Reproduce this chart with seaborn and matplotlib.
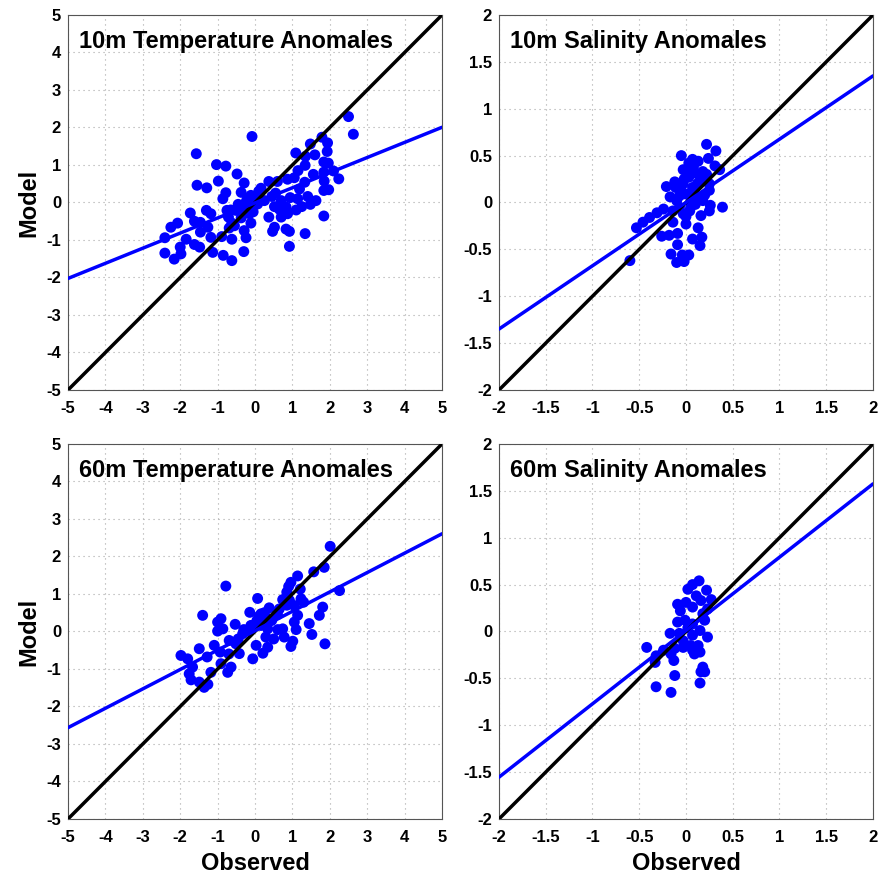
import numpy as np
import pandas as pd
import matplotlib
matplotlib.use("Agg")
import matplotlib.pyplot as plt
import seaborn as sns

# ---- 10 m temperature anomalies (observed, model) ----
t10_obs = [2.50, 2.63, -0.08, -1.57, 1.79, 1.94, 1.48, 1.93, 1.09, 1.60, 1.35, 1.84, 1.96,
           -1.03, -0.78, 1.34, 1.15, -0.48, 1.56, 1.84, 2.10, 2.24, 1.85, 0.87, 1.05, -0.98,
           -0.29, 0.37, 0.60, 1.33, -1.55, -1.29, 0.16, 1.19, 1.84, 1.97, -0.78, -0.37, -0.86,
           -0.11, 0.03, 0.45, 0.94, 1.14, 1.41, 1.63, 0.70, -0.23, -0.06, 0.07, 1.25, 1.48,
           0.52, 0.65, 0.83, 0.87, 0.70, -0.11, -1.30, -1.18, -1.73, -0.75, -0.51, -0.71,
           -0.37, -1.62, -1.46, -0.62, -0.11, 0.37, -2.07, -2.25, -1.26, -0.69, -0.29, 0.52,
           0.47, 0.83, 0.92, 1.84, -1.46, -1.18, -0.89, -0.24, -0.62, -2.41, -1.84, 1.34,
           -1.62, -1.48, -2.00, 0.92, -1.98, -2.41, -2.16, -1.13, -0.85, -0.62, -0.30,
           -0.45, -0.55, 0.25, 0.10, -0.15, -0.05, 0.00, -0.30, 0.55, 1.10, -0.65, -0.20]
t10_mod = [2.29, 1.82, 1.76, 1.30, 1.74, 1.59, 1.56, 1.36, 1.32, 1.27, 1.23, 1.08, 1.05,
           1.01, 0.97, 0.99, 0.85, 0.76, 0.75, 0.81, 0.84, 0.63, 0.57, 0.62, 0.66, 0.57,
           0.52, 0.56, 0.56, 0.54, 0.46, 0.39, 0.38, 0.36, 0.32, 0.34, 0.26, 0.27, 0.10,
           0.19, 0.14, 0.16, 0.13, 0.10, 0.16, 0.05, 0.05, 0.04, 0.01, -0.04, -0.11, -0.05,
           -0.11, -0.18, -0.12, -0.30, -0.39, -0.14, -0.21, -0.30, -0.28, -0.21, -0.21, -0.39,
           -0.41, -0.50, -0.53, -0.55, -0.55, -0.39, -0.55, -0.66, -0.66, -0.68, -0.75, -0.66,
           -0.77, -0.71, -0.77, -0.36, -0.79, -0.93, -0.91, -0.94, -0.98, -0.94, -0.98, -0.83,
           -1.12, -1.19, -1.19, -1.17, -1.37, -1.35, -1.51, -1.33, -1.41, -1.55, -1.31,
           -0.05, -0.62, 0.05, 0.30, -0.30, -0.25, 0.10, -0.20, 0.25, -0.20, -0.20, 0.10]

# ---- 10 m salinity anomalies ----
s10_obs = [0.22, 0.32, -0.05, 0.24, 0.07, 0.13, 0.31, 0.36, -0.03, 0.18, 0.03, 0.11, 0.21,
           -0.21, -0.11, -0.03, 0.07, 0.25, -0.17, -0.07, 0.00, 0.13, 0.18, 0.39, 0.26,
           -0.24, -0.31, -0.39, -0.46, -0.53, -0.14, -0.07, -0.03, 0.04, 0.16, 0.25, -0.14,
           0.00, 0.13, -0.26, -0.18, -0.09, 0.07, 0.17, -0.09, 0.15, -0.16, -0.04, 0.03,
           -0.10, -0.02, -0.60,
           0.05, 0.10, 0.08, -0.05, 0.12, 0.02, 0.15, -0.10, 0.05, 0.20, 0.10, -0.02, 0.22,
           0.00, 0.08, -0.12, 0.25, 0.03]
s10_mod = [0.62, 0.55, 0.50, 0.47, 0.46, 0.44, 0.39, 0.35, 0.35, 0.33, 0.27, 0.31, 0.23,
           0.17, 0.16, 0.20, 0.16, 0.13, 0.06, 0.07, 0.09, 0.06, 0.02, -0.05, -0.03,
           -0.07, -0.11, -0.16, -0.21, -0.27, -0.09, -0.05, -0.12, -0.09, -0.14, -0.09, -0.21,
           -0.23, -0.27, -0.36, -0.35, -0.33, -0.39, -0.37, -0.45, -0.46, -0.55, -0.56, -0.56,
           -0.64, -0.63, -0.62,
           0.00, 0.05, 0.12, 0.12, 0.20, 0.35, 0.28, 0.02, -0.05, 0.08, -0.02, 0.25, 0.30,
           -0.15, 0.38, 0.22, 0.20, 0.42]

# ---- 60 m temperature anomalies ----
t60_obs = [2.01, 1.85, 1.57, 1.14, 0.96, -0.78, 1.21, 0.85, 2.26, 0.07, 0.74, 0.92, 1.23,
           1.30, 1.05, 1.81, 0.38, 0.65, -0.14, -1.40, 1.72, 0.16, 0.29, -0.91, 1.14, -1.00,
           0.05, -0.53, 1.45, -0.11, 0.16, 0.43, 1.05, -0.86, -1.00, -0.20, -0.33, 0.34,
           0.61, 0.74, 1.10, 1.52, 0.29, 0.50, 0.78, 1.01, -0.69, -0.51, 0.03, 0.34, 0.96,
           1.87, -1.09, -1.49, -0.93, -0.42, 0.21, -1.98, -1.80, -1.28, -0.06, -0.91, -0.64,
           -1.67, -1.18, -0.73, -1.76, -1.71, -1.49, -1.26, -1.36,
           -0.30, -0.10, 0.10, 0.25, -0.45, -0.70, 0.85, 0.90, 0.45, 0.60]
t60_mod = [2.27, 1.71, 1.59, 1.48, 1.31, 1.21, 1.13, 1.05, 1.09, 0.88, 0.85, 0.83, 0.87,
           0.78, 0.69, 0.65, 0.63, 0.60, 0.51, 0.43, 0.43, 0.47, 0.37, 0.34, 0.43, 0.25,
           0.29, 0.19, 0.21, 0.16, 0.16, 0.29, 0.25, 0.07, 0.01, 0.03, -0.06, 0.07,
           0.05, 0.07, 0.05, -0.08, -0.15, -0.20, -0.15, -0.26, -0.24, -0.33, -0.37, -0.42,
           -0.40, -0.33, -0.37, -0.46, -0.55, -0.59, -0.58, -0.64, -0.73, -0.68, -0.73, -0.86,
           -0.95, -0.95, -1.09, -1.09, -1.13, -1.29, -1.35, -1.41, -1.49,
           0.05, 0.15, 0.40, 0.50, -0.20, -0.60, 0.70, 1.20, 0.30, 0.45]

# ---- 60 m salinity anomalies ----
s60_obs = [0.14, 0.07, 0.02, 0.22, 0.11, 0.16, 0.27, -0.09, 0.00, 0.07, -0.06, 0.23, 0.18,
           -0.09, -0.01, 0.07, 0.20, 0.02, 0.15, -0.17, -0.07, 0.07, 0.23, -0.03, 0.05,
           -0.42, -0.24, -0.12, -0.03, -0.32, -0.16, 0.09, 0.15, -0.13, 0.18, 0.16, -0.12,
           -0.33, 0.20, 0.15, -0.32, -0.16, 0.07, 0.13]
s60_mod = [0.54, 0.50, 0.45, 0.44, 0.38, 0.33, 0.34, 0.29, 0.31, 0.26, 0.22, 0.24, 0.19,
           0.10, 0.12, 0.08, 0.12, 0.04, 0.01, -0.02, -0.02, -0.04, -0.06, -0.10, -0.15,
           -0.17, -0.20, -0.18, -0.17, -0.26, -0.24, -0.24, -0.22, -0.31, -0.38, -0.43, -0.47,
           -0.33, -0.43, -0.55, -0.59, -0.65, -0.20, -0.15]

titles = ["10m Temperature Anomales", "10m Salinity Anomales",
          "60m Temperature Anomales", "60m Salinity Anomales"]
fit_slope = [0.403, 0.675, 0.517, 0.782]
fit_intercept = [-0.01, 0.0, 0.02, 0.01]
axis_limits = [5, 2, 5, 2]
temp_ticks = list(range(-5, 6))
sal_ticks = [-2, -1.5, -1, -0.5, 0, 0.5, 1, 1.5, 2]

panels = [(t10_obs, t10_mod), (s10_obs, s10_mod), (t60_obs, t60_mod), (s60_obs, s60_mod)]

sns.set_style("white")
plt.rcParams["font.family"] = ["Liberation Sans", "DejaVu Sans"]
plt.rcParams["font.weight"] = "bold"
plt.rcParams["text.color"] = "black"
plt.rcParams["axes.labelcolor"] = "black"

fig = plt.figure(figsize=(8.81, 8.76), dpi=100)
W, H = 0.4245, 0.4281
boxes = [(0.0772, 0.5548), (0.5664, 0.5548), (0.0772, 0.0651), (0.5664, 0.0651)]

for i, ((obs, mod), (x0, y0)) in enumerate(zip(panels, boxes)):
    ax = fig.add_axes([x0, y0, W, H])
    lim = axis_limits[i]
    ticks = temp_ticks if lim == 5 else sal_ticks
    df = pd.DataFrame({"Observed": obs, "Model": mod})

    ax.grid(True, linestyle=(0, (1, 3.5)), color="#a8a8a8", linewidth=0.8)
    ax.set_axisbelow(True)

    sns.scatterplot(data=df, x="Observed", y="Model", ax=ax, color="#0000ff",
                    s=62, edgecolor="none", linewidth=0, zorder=2, legend=False)

    # 1:1 reference line
    one = pd.DataFrame({"x": [-lim, lim], "y": [-lim, lim]})
    sns.lineplot(data=one, x="x", y="y", ax=ax, color="black", linewidth=2.5, zorder=3)

    # least-squares fit line
    xs = np.array([-lim, lim])
    fit = pd.DataFrame({"x": xs, "y": fit_slope[i] * xs + fit_intercept[i]})
    sns.lineplot(data=fit, x="x", y="y", ax=ax, color="#0000ff", linewidth=2.5, zorder=4)

    ax.set_xlim(-lim, lim)
    ax.set_ylim(-lim, lim)
    ax.set_xticks(ticks)
    ax.set_yticks(ticks)
    labels = [f"{t:g}" for t in ticks]
    ax.set_xticklabels(labels, fontsize=12, fontweight="bold", color="black")
    ax.set_yticklabels(labels, fontsize=12, fontweight="bold", color="black")
    ax.tick_params(axis="x", direction="in", length=3, width=0.6, pad=8, colors="black")
    ax.tick_params(axis="y", direction="in", length=3, width=0.6, pad=5, colors="black")
    for sp in ax.spines.values():
        sp.set_color("#555555")
        sp.set_linewidth(0.8)

    ax.text(0.03, 0.93, titles[i], transform=ax.transAxes, fontsize=17,
            fontweight="bold", ha="left", va="center", color="black")

    ax.set_xlabel("Observed" if i >= 2 else "", fontsize=17, fontweight="bold",
                  labelpad=5, color="black")
    ax.set_ylabel("Model" if i % 2 == 0 else "", fontsize=17, fontweight="bold",
                  labelpad=4, color="black")

fig.savefig("out.png", dpi=100)
